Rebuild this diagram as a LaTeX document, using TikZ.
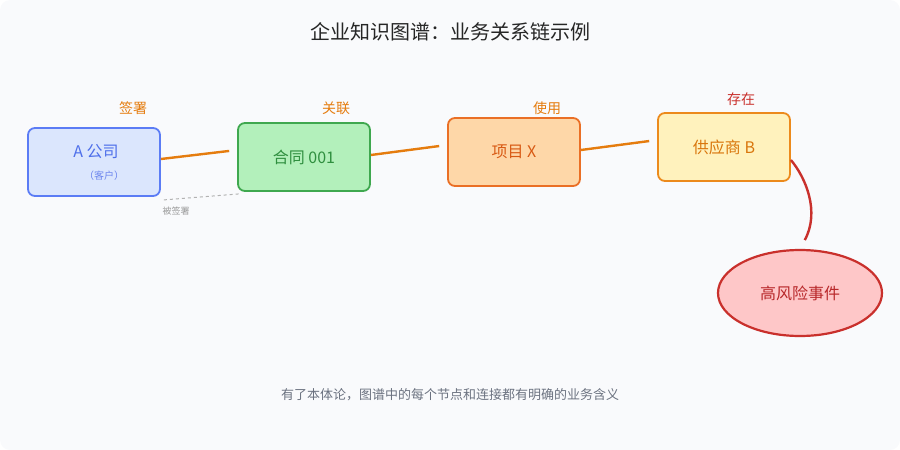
\documentclass[tikz,border=0pt]{standalone}
\usepackage{fontspec}
\setmainfont{Noto Sans CJK SC}
\usetikzlibrary{shapes.geometric}
\definecolor{bg}{HTML}{F9FAFC}
\definecolor{edgeO}{HTML}{E57C0E}
\definecolor{aF}{HTML}{DBE6FD}\definecolor{aD}{HTML}{5B7CF5}\definecolor{aT}{HTML}{4E6FEA}\definecolor{aS}{HTML}{6C85EE}
\definecolor{cF}{HTML}{B3F0BB}\definecolor{cD}{HTML}{3FA84F}\definecolor{cT}{HTML}{2F8F3F}
\definecolor{pF}{HTML}{FED7A8}\definecolor{pD}{HTML}{EA6F25}\definecolor{pT}{HTML}{D85A14}
\definecolor{sF}{HTML}{FFF2BD}\definecolor{sD}{HTML}{EC8A1C}\definecolor{sT}{HTML}{D9760C}
\definecolor{eF}{HTML}{FEC7C8}\definecolor{eD}{HTML}{C9302C}\definecolor{eT}{HTML}{B8282A}
\definecolor{footT}{HTML}{6B7280}
\tikzset{
 box/.style={rounded corners=7pt,line width=1.8pt,minimum width=132pt,minimum height=68pt,inner sep=0pt,font=\fontsize{16}{19}\selectfont},
 rel/.style={font=\fontsize{14}{16}\selectfont,text=edgeO},
 link/.style={draw=edgeO,line width=2.4pt,shorten >=8pt}
}
\begin{document}
\begin{tikzpicture}[x=1pt,y=-1pt]
\fill[bg,rounded corners=10pt] (0,0) rectangle (900,450);
\useasboundingbox (0,0) rectangle (900,450);
\node[font=\fontsize{20}{24}\selectfont,text=black!85] (title) at (450,32) {企业知识图谱：业务关系链示例};
\node[box,fill=aF,draw=aD] (a) at (94,162) {};
\node[text=aT,font=\fontsize{16}{19}\selectfont] (at) at (96,152) {A 公司};
\node[text=aS,font=\fontsize{10}{12}\selectfont] (as) at (104,176) {（客户）};
\node[box,fill=cF,draw=cD,text=cT] (c) at (304,157) {合同 001};
\node[box,fill=pF,draw=pD,text=pT] (p) at (514,152) {项目 X};
\node[box,fill=sF,draw=sD,text=sT] (s) at (724,147) {供应商 B};
\node[ellipse,minimum width=164pt,minimum height=86pt,line width=2.2pt,fill=eF,draw=eD,text=eT,font=\fontsize{16}{19}\selectfont] (e) at (800,293) {高风险事件};
\draw[link] ([yshift=3pt]a.east) -- ([yshift=7pt]c.west);
\draw[link] ([yshift=2pt]c.east) -- ([yshift=7pt]p.west);
\draw[link] ([yshift=2pt]p.east) -- ([yshift=7pt]s.west);
\draw[draw=eD,line width=2.4pt,shorten >=10pt] ([yshift=-13pt]s.east) .. controls (806,178) and (820,212) .. (e.north);
\draw[gray!60,dashed,line width=1pt] ([xshift=3pt,yshift=-3pt]a.south east) -- ([xshift=2pt,yshift=-2pt]c.south west);
\node[rel] (l1) at (133,108) {签署};
\node[rel] (l2) at (336,108) {关联};
\node[rel] (l3) at (547,108) {使用};
\node[rel,text=eD] (l4) at (741,99) {存在};
\node[font=\fontsize{9}{11}\selectfont,text=gray!80] (l5) at (176,211) {被签署};
\node[font=\fontsize{13}{15}\selectfont,text=footT] (foot) at (450,395) {有了本体论，图谱中的每个节点和连接都有明确的业务含义};
\end{tikzpicture}
\end{document}
